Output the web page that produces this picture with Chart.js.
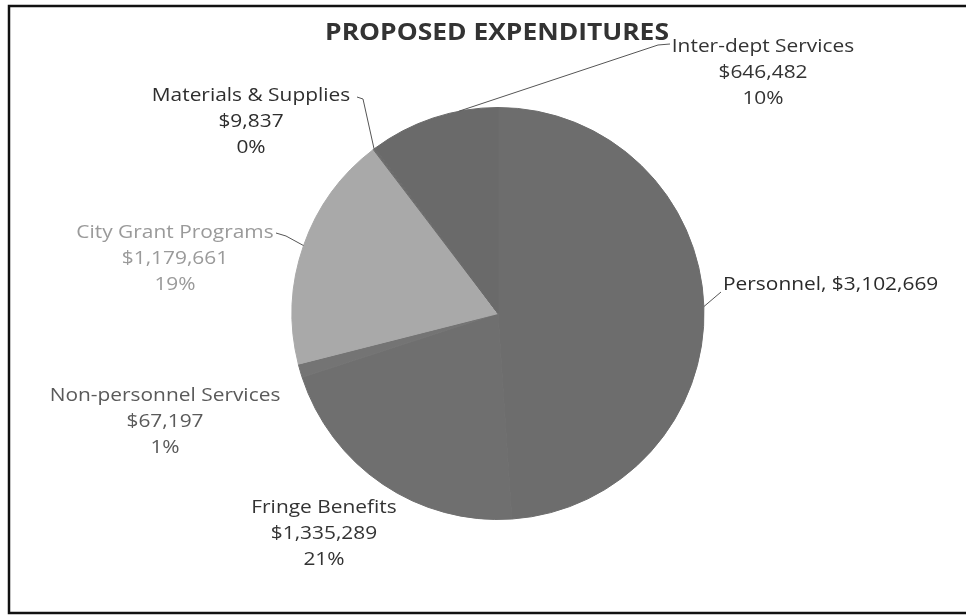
<!DOCTYPE html>
<html>
<head>
<meta charset="utf-8">
<script src="https://cdn.jsdelivr.net/npm/chart.js@4/dist/chart.umd.min.js"></script>
<style>
  html,body{margin:0;padding:0;background:#fff;}
  #wrap{width:966px;height:615px;position:relative;}
</style>
</head>
<body>
<div id="wrap"><canvas id="c" width="966" height="615"></canvas></div>
<script>
// ---- data ----
const chartTitle = 'PROPOSED EXPENDITURES';
const categories = ['Personnel', 'Fringe Benefits', 'Non-personnel Services', 'City Grant Programs', 'Materials & Supplies', 'Inter-dept Services'];
const amounts = [3102669, 1335289, 67197, 1179661, 9837, 646482];
const sliceColors = ['#6d6d6d', '#6f6f6f', '#747474', '#a9a9a9', '#6d6d6d', '#6a6a6a'];

const total = amounts.reduce((a, b) => a + b, 0);
const money = v => '$' + v.toLocaleString('en-US');
const pct = v => Math.round(v / total * 100) + '%';

// label layout (text anchor, colour, leader line): style, not data
const labelLayout = [
  {x: 723, y: 285, align: 'left', color: '#2a2a2a', oneLine: true, leader: [[721, 292]], frac: 0.5},
  {x: 324, y: 508, align: 'center', color: '#333333'},
  {x: 165, y: 396, align: 'center', color: '#5a5a5a'},
  {x: 175, y: 233, align: 'center', color: '#9a9a9a', leader: [[276, 233], [286, 236]], frac: 0.5},
  {x: 251, y: 96, align: 'center', color: '#2e2e2e', leader: [[357, 97], [363, 99]], frac: 0.5},
  {x: 763, y: 47, align: 'center', color: '#333333', leader: [[670, 44], [658, 45]], frac: 0.7}
];
const stretchX = 1.1;

function drawText(ctx, t, x, y) {
  ctx.save();
  ctx.translate(x, y);
  ctx.scale(stretchX, 1);
  ctx.fillText(t, 0, 0);
  ctx.restore();
}

const labelPlugin = {
  id: 'sliceLabels',
  afterDatasetsDraw(chart) {
    const ctx = chart.ctx;
    const meta = chart.getDatasetMeta(0);
    ctx.save();
    meta.data.forEach((arc, i) => {
      const L = labelLayout[i];
      const p = arc.getProps(['x', 'y', 'startAngle', 'endAngle', 'outerRadius'], true);
      if (L.leader) {
        const a = p.startAngle + (p.endAngle - p.startAngle) * L.frac;
        const ex = p.x + Math.cos(a) * p.outerRadius;
        const ey = p.y + Math.sin(a) * p.outerRadius;
        ctx.beginPath();
        ctx.strokeStyle = '#555';
        ctx.lineWidth = 1;
        ctx.moveTo(L.leader[0][0], L.leader[0][1]);
        for (let k = 1; k < L.leader.length; k++) ctx.lineTo(L.leader[k][0], L.leader[k][1]);
        ctx.lineTo(ex, ey);
        ctx.stroke();
      }
      ctx.fillStyle = L.color;
      ctx.font = '19px "Open Sans", sans-serif';
      ctx.textAlign = L.align;
      ctx.textBaseline = 'middle';
      if (L.oneLine) {
        drawText(ctx, categories[i] + ', ' + money(amounts[i]), L.x, L.y);
      } else {
        const lines = [categories[i], money(amounts[i]), pct(amounts[i])];
        lines.forEach((t, k) => drawText(ctx, t, L.x, L.y + k * 26));
      }
    });
    // title
    ctx.fillStyle = '#333333';
    ctx.font = 'bold 24px "Open Sans", sans-serif';
    ctx.textAlign = 'center';
    ctx.textBaseline = 'middle';
    drawText(ctx, chartTitle, 497, 33);
    // frame
    ctx.strokeStyle = '#111';
    ctx.lineWidth = 2.5;
    ctx.strokeRect(9, 6, 966, 607);
    ctx.restore();
  }
};

new Chart(document.getElementById('c'), {
  type: 'pie',
  data: {
    labels: categories,
    datasets: [{
      data: amounts,
      backgroundColor: sliceColors,
      borderColor: sliceColors,
      borderWidth: 1
    }]
  },
  options: {
    responsive: false,
    devicePixelRatio: 1,
    animation: false,
    rotation: 0,
    layout: {padding: {top: 107, bottom: 95, left: 200, right: 170}},
    plugins: {
      legend: {display: false},
      tooltip: {enabled: false},
      title: {display: false}
    }
  },
  plugins: [labelPlugin]
});
</script>
</body>
</html>
